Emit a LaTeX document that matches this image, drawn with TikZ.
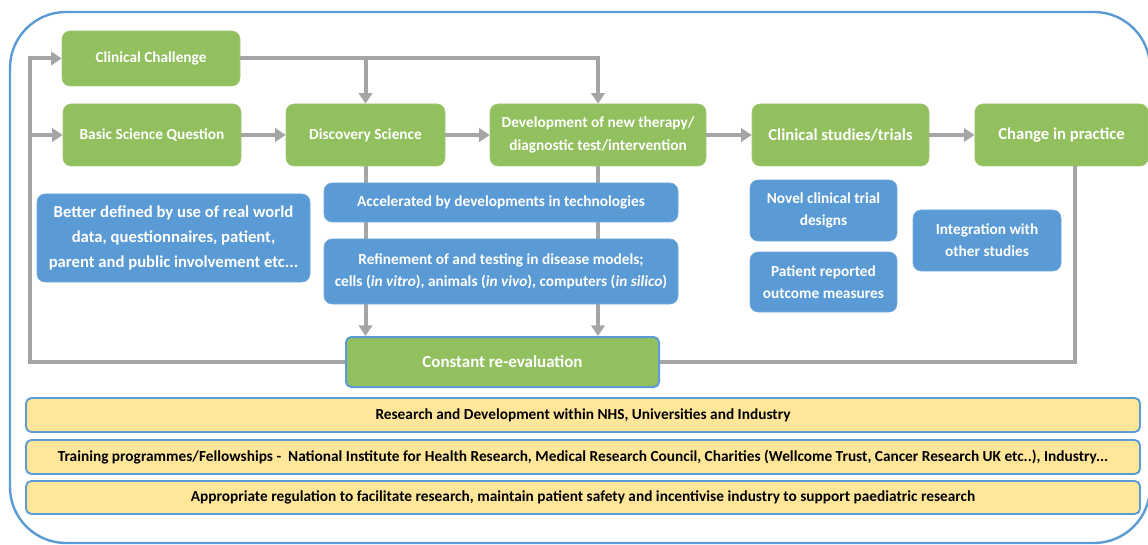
\documentclass[tikz,border=0pt]{standalone}
\usepackage{fontspec}
\setmainfont{Carlito}
\usetikzlibrary{arrows.meta,backgrounds}

\definecolor{boxgreen}{HTML}{92C05F}
\definecolor{boxblue}{HTML}{5B9BD5}
\definecolor{baryellow}{HTML}{FFE699}
\definecolor{flowgray}{HTML}{A5A5A5}

\tikzset{
  greenbox/.style={rectangle, rounded corners=6pt, fill=boxgreen, draw=boxgreen!85!white,
    text=white, align=center, inner sep=0pt, font=\bfseries\fontsize{11.5}{17.5}\selectfont},
  bluebox/.style={rectangle, rounded corners=6pt, fill=boxblue, draw=boxblue!85!white,
    text=white, align=center, inner sep=0pt, font=\bfseries\fontsize{11.5}{16.5}\selectfont},
  yellowbar/.style={rectangle, rounded corners=4pt, fill=baryellow, draw=boxblue,
    line width=1.4pt, minimum width=835.5pt, align=center, inner sep=0pt,
    font=\bfseries\fontsize{11.5}{13}\selectfont},
  flow/.style={draw=flowgray, line width=3pt, -{Triangle[length=8pt,width=10pt]}},
  plain/.style={draw=flowgray, line width=3pt},
}

\begin{document}
\begin{tikzpicture}[x=0.75pt,y=-0.75pt]
  \useasboundingbox (0,0) rectangle (1148,545);
  \clip (0,0) rectangle (1148,545);

  % outer frame
  \draw[boxblue, line width=1.8pt, rounded corners=42pt] (10,12) rectangle (1150,543);

  % top row
  \node[greenbox, minimum width=133.5pt, minimum height=41.25pt] (clin) at (151,58.5) {Clinical Challenge};
  \node[greenbox, minimum width=133.5pt, minimum height=46.5pt] (basic) at (152,135) {Basic Science Question};
  \node[greenbox, minimum width=119.25pt, minimum height=46.5pt] (disc) at (365.5,135) {Discovery Science};
  \node[greenbox, minimum width=162pt, minimum height=46.5pt] (devel) at (598,135)
       {Development of new therapy/\\diagnostic test/intervention};
  \node[greenbox, minimum width=132.75pt, minimum height=46.5pt,
        font=\bfseries\fontsize{12.5}{15}\selectfont] (trials) at (840.5,135) {Clinical studies/trials};
  \node[greenbox, minimum width=130pt, minimum height=46.5pt,
        font=\bfseries\fontsize{12.5}{15}\selectfont] (change) at (1061.5,135) {Change in practice};

  % blue notes
  \node[bluebox, minimum width=204.75pt, minimum height=66pt,
        font=\bfseries\fontsize{12.5}{19}\selectfont] (better) at (173.5,238)
       {Better defined by use of real world\\data, questionnaires, patient,\\parent and public involvement etc...};
  \node[bluebox, minimum width=265.5pt, minimum height=29.25pt] (accel) at (501,202.5)
       {Accelerated by developments in technologies};
  \node[bluebox, minimum width=265.5pt, minimum height=48.75pt] (refine) at (501,271.5)
       {Refinement of and testing in disease models;\\cells (\textit{in vitro}), animals (\textit{in vivo}), computers (\textit{in silico})};
  \node[bluebox, minimum width=110.25pt, minimum height=45.75pt] (novel) at (823.5,210.5)
       {Novel clinical trial\\designs};
  \node[bluebox, minimum width=110.25pt, minimum height=45pt] (prom) at (823.5,282)
       {Patient reported\\outcome measures};
  \node[bluebox, minimum width=111pt, minimum height=45.75pt] (integ) at (987,240.5)
       {Integration with\\other studies};

  \node[greenbox, draw=boxblue, line width=1.5pt, rounded corners=4pt,
        minimum width=234.75pt, minimum height=37.5pt,
        font=\bfseries\fontsize{12.7}{15}\selectfont] (reeval) at (502.5,362) {Constant re-evaluation};

  % yellow bars
  \node[yellowbar, minimum height=25.5pt] (rnd) at (583,415)
       {Research and Development within NHS, Universities and Industry};
  \node[yellowbar, minimum height=25.5pt] (train) at (583,457)
       {Training programmes/Fellowships -\ \ National Institute for Health Research, Medical Research Council, Charities (Wellcome Trust, Cancer Research UK etc..), Industry...};
  \node[yellowbar, minimum height=24.75pt] (reg) at (583,497.5)
       {Appropriate regulation to facilitate research, maintain patient safety and incentivise industry to support paediatric research};

  % connectors
  \coordinate (loopb) at (30,362);
  \begin{scope}[on background layer]
    \draw[flow] (disc.south) -- (disc.south |- reeval.north);
    \draw[flow] (devel.south) -- (devel.south |- reeval.north);
  \end{scope}
  \draw[flow] (clin.east) -| (devel.north);
  \draw[flow] (clin.east -| disc.north) -- (disc.north);
  \draw[flow] (basic.east) -- (disc.west);
  \draw[flow] (disc.east) -- (devel.west);
  \draw[flow] (devel.east) -- (trials.west);
  \draw[flow] (trials.east) -- (change.west);
  \draw[plain] ([xshift=10pt]change.south) |- (reeval.east);
  \draw[flow] (reeval.west) -- (loopb) |- (clin.west);
  \draw[flow] (loopb |- basic.west) -- (basic.west);
\end{tikzpicture}
\end{document}
